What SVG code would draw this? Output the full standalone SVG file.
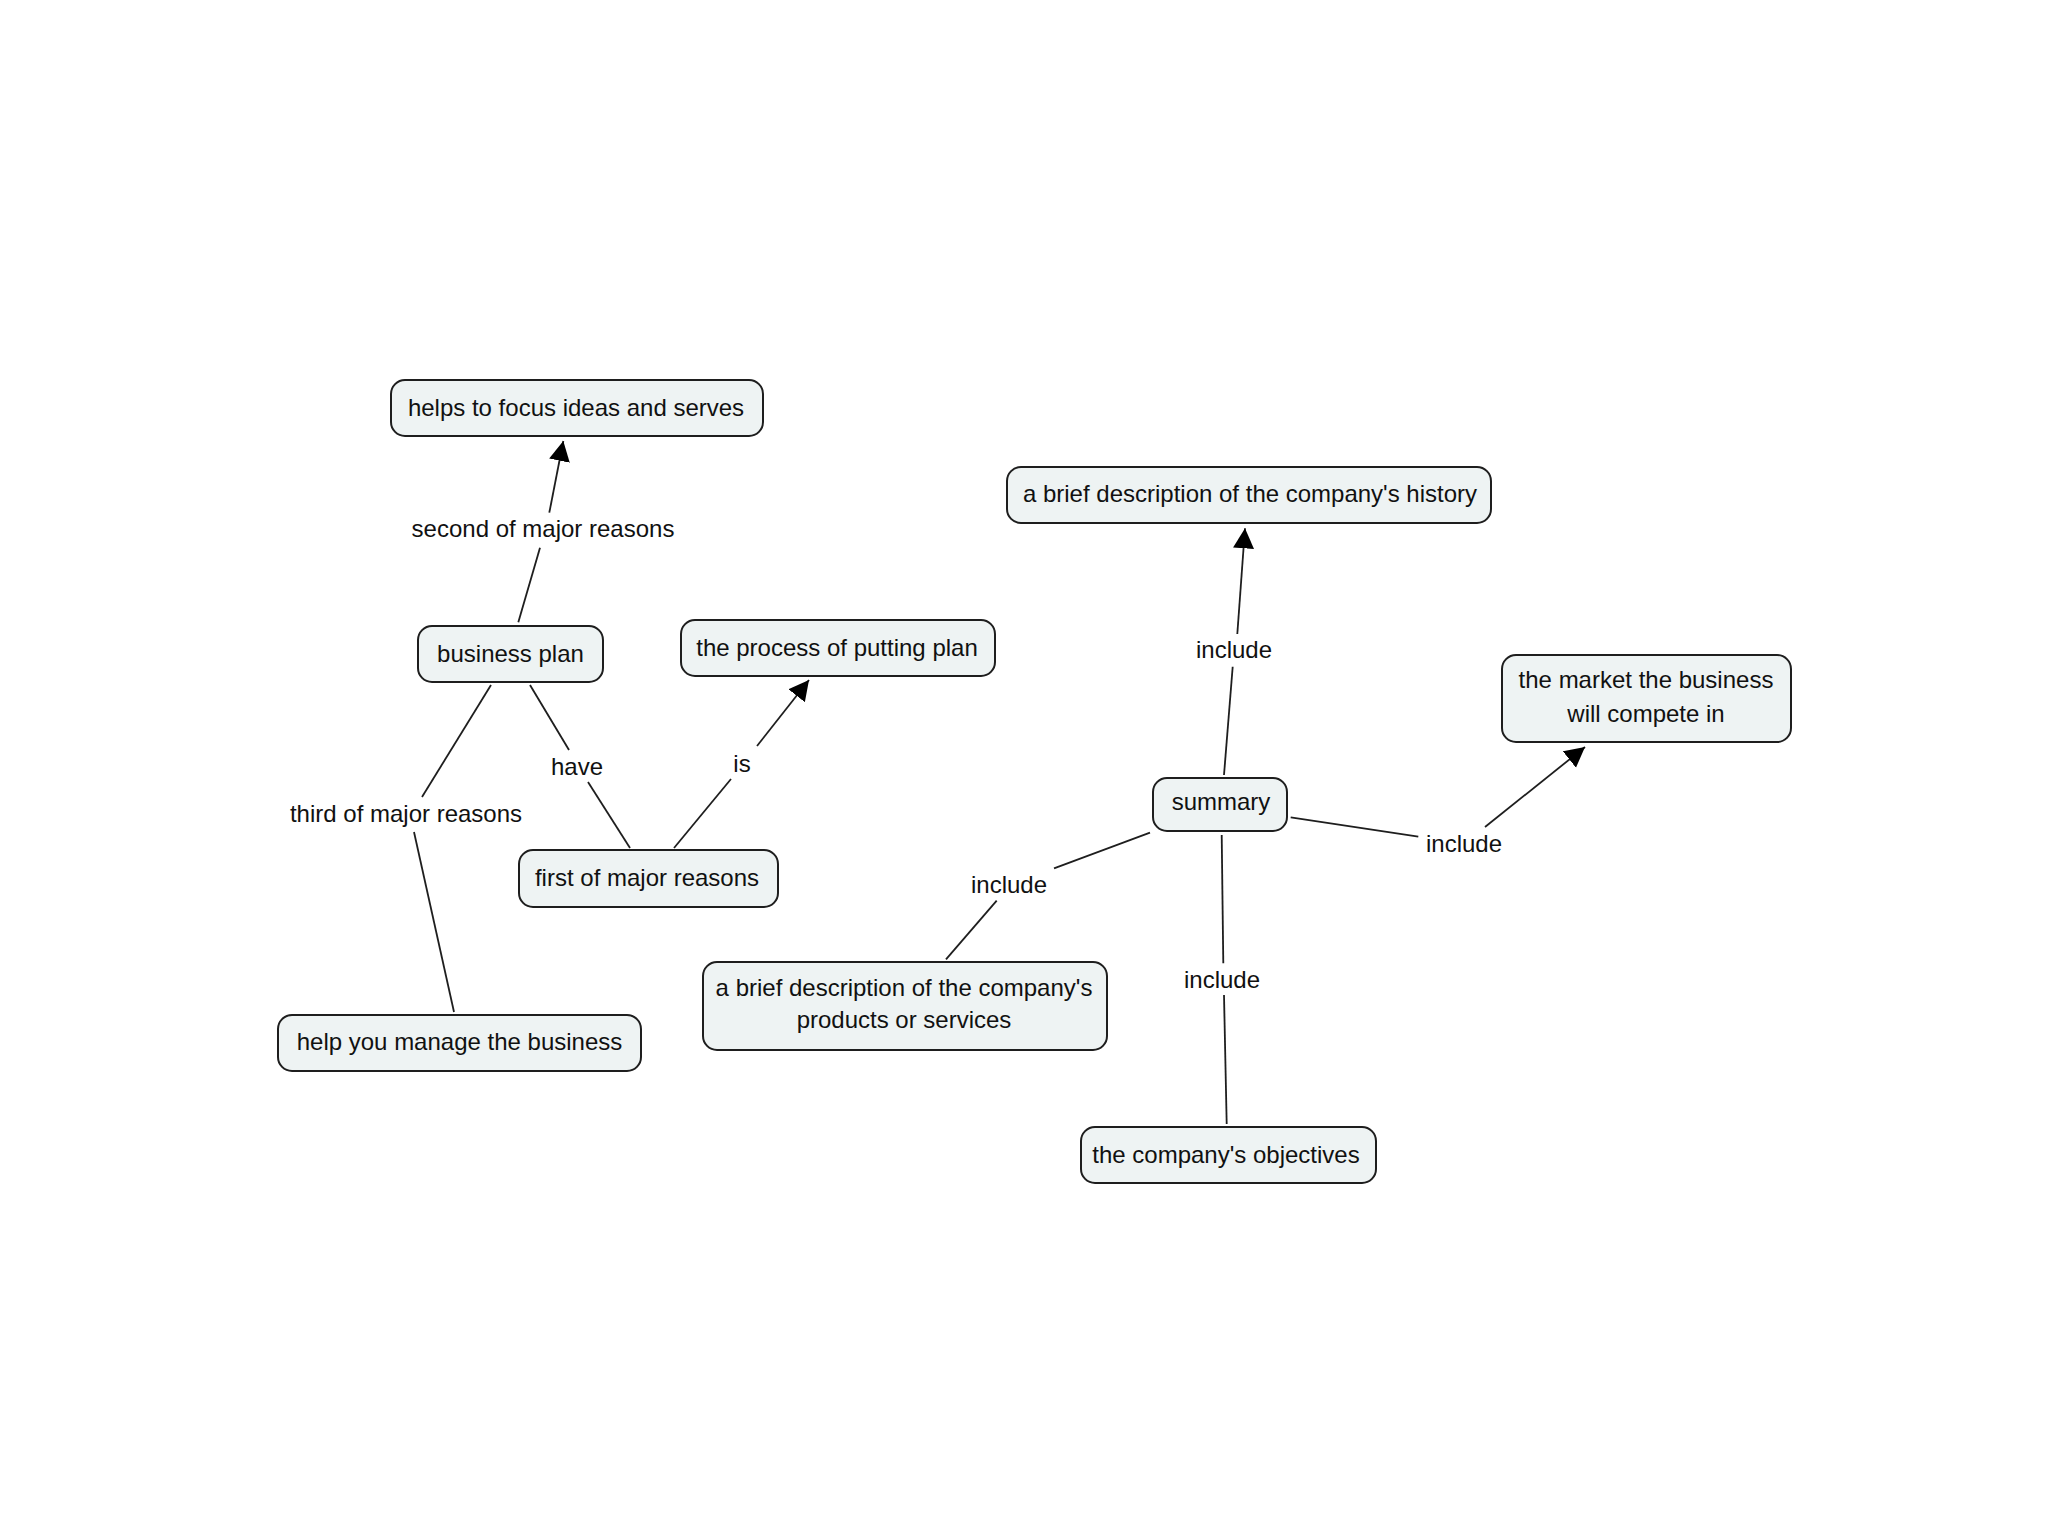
<svg xmlns="http://www.w3.org/2000/svg" width="2048" height="1535" viewBox="0 0 2048 1535">
<style>
.node rect{fill:#eef3f3;stroke:#1e1e1e;stroke-width:2}
text{font-family:"Liberation Sans",Arial,sans-serif;font-size:24px;fill:#111;text-anchor:middle}
.links line{stroke:#1e1e1e;stroke-width:1.8;fill:none}
.arrow{marker-end:url(#ah)}
</style>
<defs>
<marker id="ah" markerUnits="userSpaceOnUse" markerWidth="22" markerHeight="22" refX="20" refY="10.5" orient="auto" viewBox="0 0 22 21">
<path d="M0,0 L20,10.5 L0,21 z" fill="#000"/>
</marker>
</defs>
<rect x="0" y="0" width="2048" height="1535" fill="#fff"/>
<g class="links">
<line x1="518.3" y1="622.3" x2="540" y2="547.7"/>
<line class="arrow" x1="549.3" y1="512.7" x2="563.3" y2="441"/>
<line x1="491" y1="685" x2="422" y2="797"/>
<line x1="414" y1="832" x2="454" y2="1012"/>
<line x1="530" y1="685" x2="569" y2="750"/>
<line x1="588" y1="782" x2="630" y2="848"/>
<line x1="674" y1="848" x2="731" y2="779"/>
<line class="arrow" x1="757" y1="746" x2="809" y2="680"/>
<line x1="1224" y1="775" x2="1232.7" y2="666.7"/>
<line class="arrow" x1="1237.3" y1="634" x2="1245" y2="528.3"/>
<line x1="1290.7" y1="817.3" x2="1418.3" y2="836.7"/>
<line class="arrow" x1="1485" y1="827" x2="1585" y2="747"/>
<line x1="1150" y1="832.7" x2="1054" y2="868.3"/>
<line x1="996.7" y1="900.7" x2="946" y2="959.3"/>
<line x1="1221.7" y1="835" x2="1223.3" y2="963.3"/>
<line x1="1224" y1="995" x2="1226.7" y2="1124"/>
<text x="543" y="537">second of major reasons</text>
<text x="406" y="822">third of major reasons</text>
<text x="577" y="775">have</text>
<text x="742" y="772">is</text>
<text x="1234" y="658">include</text>
<text x="1464" y="852">include</text>
<text x="1009" y="893">include</text>
<text x="1222" y="988">include</text>
</g>
<g id="n-helps" class="node"><rect x="391" y="380" width="372" height="56" rx="14"/><text x="576" y="416">helps to focus ideas and serves</text></g>
<g id="n-bp" class="node"><rect x="418" y="626" width="185" height="56" rx="14"/><text x="510.5" y="662">business plan</text></g>
<g id="n-process" class="node"><rect x="681" y="620" width="314" height="56" rx="14"/><text x="837" y="656">the process of putting plan</text></g>
<g id="n-first" class="node"><rect x="519" y="850" width="259" height="57" rx="14"/><text x="647" y="886">first of major reasons</text></g>
<g id="n-help" class="node"><rect x="278" y="1015" width="363" height="56" rx="14"/><text x="459.5" y="1050">help you manage the business</text></g>
<g id="n-history" class="node"><rect x="1007" y="467" width="484" height="56" rx="14"/><text x="1250" y="502">a brief description of the company's history</text></g>
<g id="n-market" class="node"><rect x="1502" y="655" width="289" height="87" rx="14"/><text x="1646" y="688">the market the business</text><text x="1646" y="722">will compete in</text></g>
<g id="n-summary" class="node"><rect x="1153" y="778" width="134" height="53" rx="14"/><text x="1221" y="810">summary</text></g>
<g id="n-products" class="node"><rect x="703" y="962" width="404" height="88" rx="14"/><text x="904" y="996">a brief description of the company's</text><text x="904" y="1028">products or services</text></g>
<g id="n-objectives" class="node"><rect x="1081" y="1127" width="295" height="56" rx="14"/><text x="1226" y="1163">the company's objectives</text></g>
</svg>
